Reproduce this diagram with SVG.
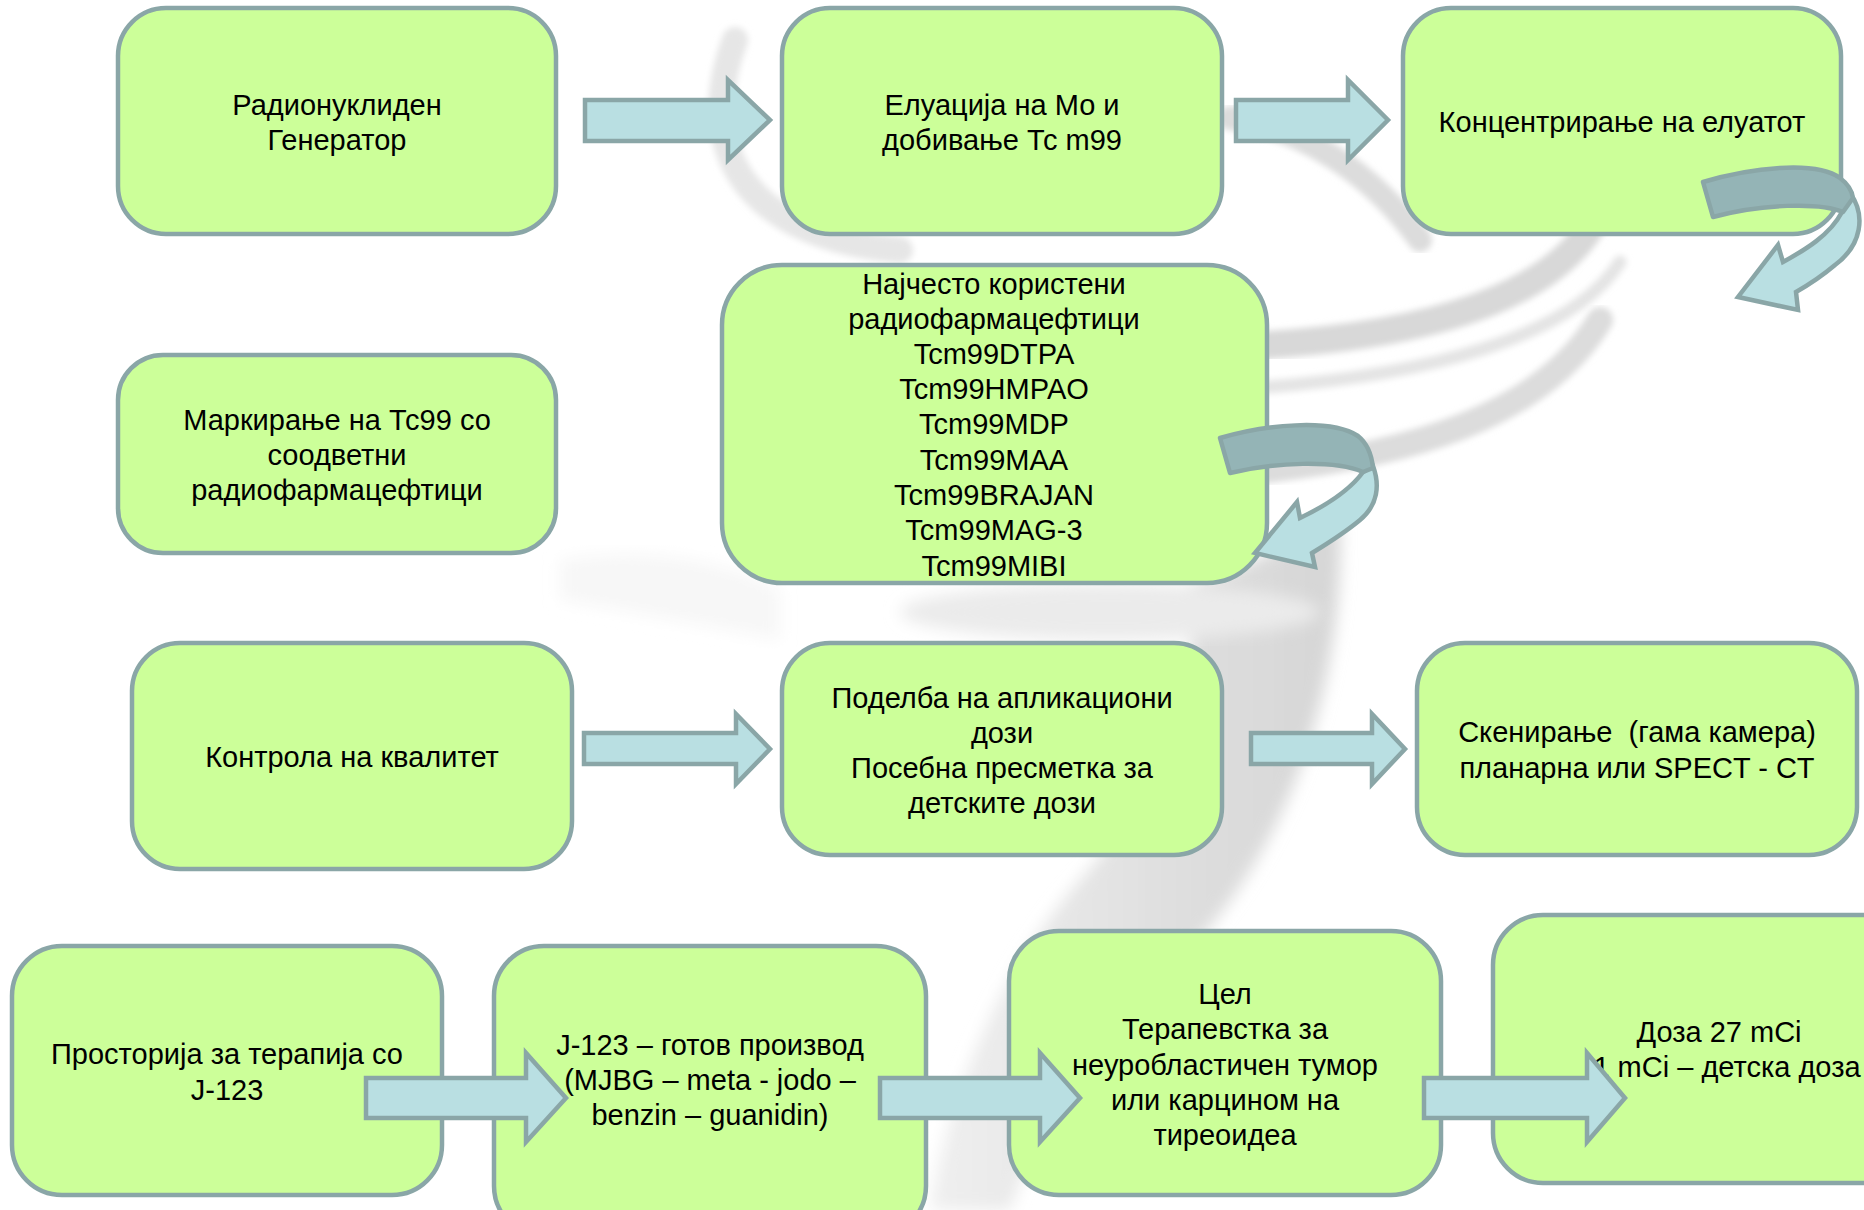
<svg xmlns="http://www.w3.org/2000/svg" width="1864" height="1210" viewBox="0 0 1864 1210">
<style>
.box{fill:#CCFF99;stroke:#8AA6A7;stroke-width:4.5}
.arr{fill:#B9DFE2;stroke:#8AA6A7;stroke-width:4.5;stroke-linejoin:miter}
.back{fill:#94B4B6;stroke:#8AA6A7;stroke-width:4.5;stroke-linejoin:round}
.t{font-family:"Liberation Sans",Arial,sans-serif;font-size:29px;fill:#000;text-anchor:middle}
.wm{fill:none;stroke-linecap:round}
</style>
<defs>
<filter id="soft" x="-10%" y="-10%" width="120%" height="120%"><feGaussianBlur stdDeviation="3"/></filter>
<filter id="softer" x="-20%" y="-10%" width="140%" height="120%"><feGaussianBlur stdDeviation="8"/></filter>
<linearGradient id="sw" x1="0" y1="0" x2="1" y2="0"><stop offset="0" stop-color="#efefef"/><stop offset="0.7" stop-color="#dcdcdc"/><stop offset="1" stop-color="#d6d6d6"/></linearGradient>
</defs>
<rect width="1864" height="1210" fill="#ffffff"/>
<g id="watermark">
<path class="wm" filter="url(#soft)" d="M735 40 C690 160 760 240 900 250" stroke="#e6e6e6" stroke-width="26"/>
<path class="wm" filter="url(#soft)" d="M1230 118 C1300 128 1370 170 1420 240" stroke="#dcdcdc" stroke-width="24"/>
<path class="wm" filter="url(#soft)" d="M1600 210 C1560 300 1420 335 1267 345" stroke="#d8d8d8" stroke-width="28"/>
<path class="wm" filter="url(#soft)" d="M1620 262 C1570 340 1420 375 1267 387" stroke="#e4e4e4" stroke-width="13"/>
<path class="wm" filter="url(#soft)" d="M1600 320 C1540 420 1400 455 1267 470" stroke="#dcdcdc" stroke-width="26"/>
<path filter="url(#softer)" fill="url(#sw)" d="M1340 520 C1345 700 1280 860 1180 960 C1100 1040 1040 1120 1010 1210 L930 1210 C950 1080 1010 960 1080 880 C1160 790 1200 700 1190 590 Z"/>
<ellipse filter="url(#softer)" cx="1110" cy="612" rx="210" ry="28" fill="#ebebeb"/>
<path filter="url(#softer)" fill="#f7f7f7" d="M560 560 C640 545 730 560 780 590 L780 640 C700 625 620 610 560 600 Z"/>
</g>
<g id="n1"><rect class="box" x="118" y="8" width="438" height="226" rx="48"/>
<text class="t" x="337" y="115">Радионуклиден</text><text class="t" x="337" y="150">Генератор</text></g>
<g id="n2"><rect class="box" x="782" y="8" width="440" height="226" rx="48"/>
<text class="t" x="1002" y="115">Елуација на Мо и</text><text class="t" x="1002" y="150">добивање Тс m99</text></g>
<g id="n3"><rect class="box" x="1403" y="8" width="438" height="226" rx="48"/>
<text class="t" x="1622" y="132">Концентрирање на елуатот</text></g>
<g id="n4"><rect class="box" x="722" y="265" width="545" height="318" rx="60"/>
<text class="t" x="994" y="294">Најчесто користени</text>
<text class="t" x="994" y="329">радиофармацефтици</text>
<text class="t" x="994" y="364">Tcm99DTPA</text>
<text class="t" x="994" y="399">Tcm99HMPAO</text>
<text class="t" x="994" y="434">Tcm99MDP</text>
<text class="t" x="994" y="470">Tcm99MAA</text>
<text class="t" x="994" y="505">Tcm99BRAJAN</text>
<text class="t" x="994" y="540">Tcm99MAG-3</text>
<text class="t" x="994" y="576">Tcm99MIBI</text></g>
<g id="n5"><rect class="box" x="118" y="355" width="438" height="198" rx="45"/>
<text class="t" x="337" y="430">Маркирање на Тс99 со</text><text class="t" x="337" y="465">соодветни</text><text class="t" x="337" y="500">радиофармацефтици</text></g>
<g id="n6"><rect class="box" x="132" y="643" width="440" height="226" rx="48"/>
<text class="t" x="352" y="767">Контрола на квалитет</text></g>
<g id="n7"><rect class="box" x="782" y="643" width="440" height="212" rx="48"/>
<text class="t" x="1002" y="708">Поделба на апликациони</text><text class="t" x="1002" y="743">дози</text><text class="t" x="1002" y="778">Посебна пресметка за</text><text class="t" x="1002" y="813">детските дози</text></g>
<g id="n8"><rect class="box" x="1417" y="643" width="440" height="212" rx="48"/>
<text class="t" x="1637" y="742" xml:space="preserve">Скенирање  (гама камера)</text><text class="t" x="1637" y="778">планарна или SPECT - CT</text></g>
<g id="n9"><rect class="box" x="12" y="946" width="430" height="249" rx="50"/>
<text class="t" x="227" y="1064">Просторија за терапија со</text><text class="t" x="227" y="1100">J-123</text></g>
<g id="n10"><rect class="box" x="494" y="946" width="432" height="290" rx="50"/>
<text class="t" x="710" y="1055">J-123 – готов производ</text><text class="t" x="710" y="1090">(MJBG – meta - jodo –</text><text class="t" x="710" y="1125">benzin – guanidin)</text></g>
<g id="n11"><rect class="box" x="1009" y="931" width="432" height="264" rx="50"/>
<text class="t" x="1225" y="1004">Цел</text><text class="t" x="1225" y="1039">Терапевстка за</text><text class="t" x="1225" y="1075">неуробластичен тумор</text><text class="t" x="1225" y="1110">или карцином на</text><text class="t" x="1225" y="1145">тиреоидеа</text></g>
<g id="n12"><rect class="box" x="1493" y="915" width="420" height="268" rx="50"/>
<text class="t" x="1719" y="1042">Доза 27 mCi</text><text class="t" x="1727" y="1077">1 mCi – детска доза</text></g>
<g id="connectors">
<path class="arr" d="M585 100 L728 100 L728 80 L770 120 L728 160 L728 141 L585 141 Z"/>
<path class="arr" d="M1236 100 L1348 100 L1348 80 L1388 120 L1348 160 L1348 141 L1236 141 Z"/>
<path class="arr" d="M584 733 L736 733 L736 714 L770 749 L736 784 L736 764 L584 764 Z"/>
<path class="arr" d="M1251 733 L1372 733 L1372 714 L1405 749 L1372 784 L1372 764 L1251 764 Z"/>
<path class="arr" d="M366 1078 L526 1078 L526 1053 L566 1098 L526 1142 L526 1118 L366 1118 Z"/>
<path class="arr" d="M880 1078 L1040 1078 L1040 1053 L1080 1098 L1040 1142 L1040 1118 L880 1118 Z"/>
<path class="arr" d="M1424 1078 L1587 1078 L1587 1053 L1625 1098 L1587 1142 L1587 1118 L1424 1118 Z"/>
<path class="arr" d="M1850 193 C1866 215 1862 245 1835 265 C1822 276 1810 284 1796 292 L1798 310 L1738 297 L1778 245 L1783 262 C1805 250 1830 235 1842 212 Z"/>
<path class="back" d="M1703 182 C1750 168 1815 160 1840 178 C1848 184 1852 190 1853 198 L1843 212 C1820 202 1760 204 1713 217 Z"/>
<path class="arr" d="M1373 466 C1380 485 1378 505 1360 520 C1348 530 1330 542 1312 553 L1315 567 L1255 553 L1297 502 L1300 518 C1325 506 1350 490 1363 472 Z"/>
<path class="back" d="M1220 438 C1265 425 1330 418 1358 436 C1368 444 1372 458 1373 468 L1363 472 C1335 460 1275 462 1230 473 Z"/>
</g>
</svg>
